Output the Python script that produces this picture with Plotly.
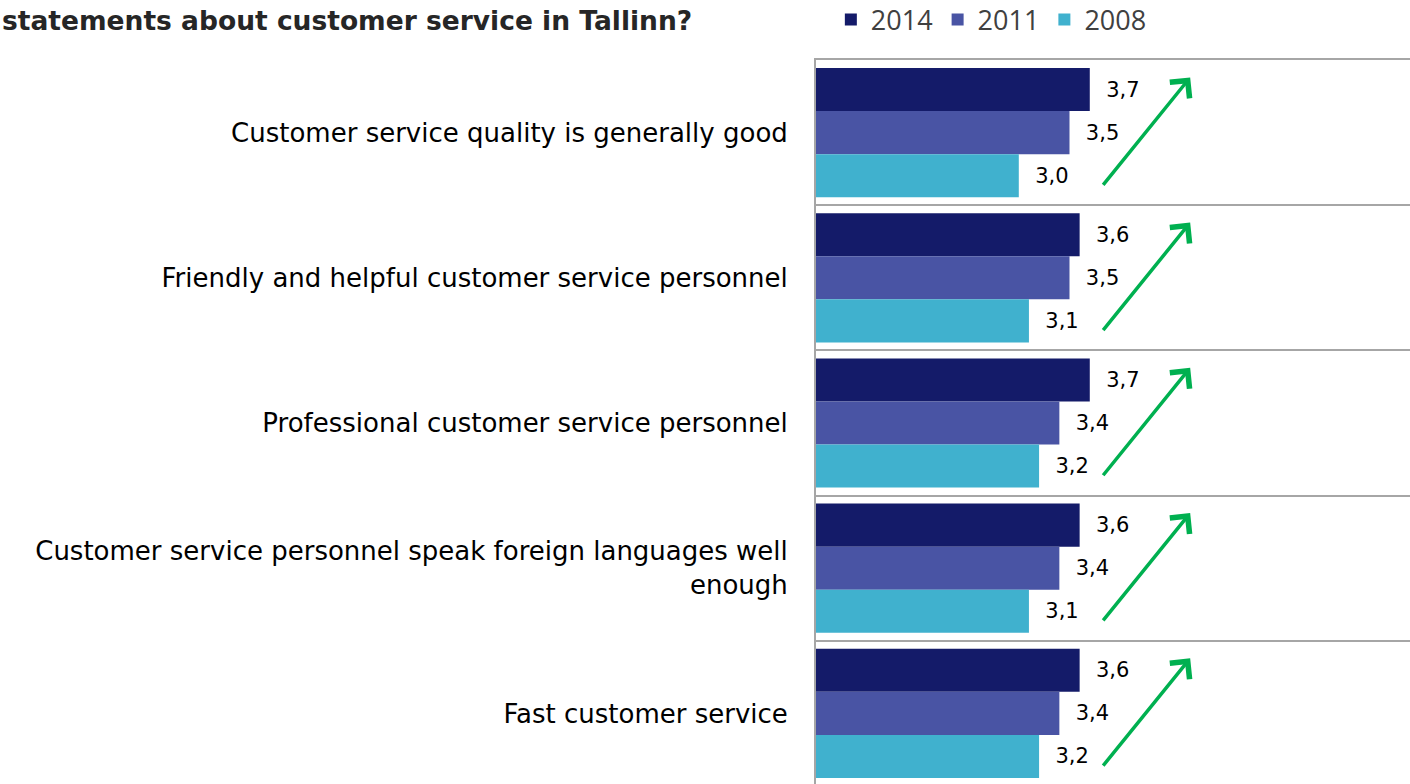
import plotly.graph_objects as go

# Survey statements (top to bottom) and mean agreement scores per survey year
statements = [
    "Customer service quality is generally good",
    "Friendly and helpful customer service personnel",
    "Professional customer service personnel",
    "Customer service personnel speak foreign languages well<br>enough",
    "Fast customer service",
]
years = ["2014", "2011", "2008"]
scores_2014 = [3.7, 3.6, 3.7, 3.6, 3.6]
scores_2011 = [3.5, 3.5, 3.4, 3.4, 3.4]
scores_2008 = [3.0, 3.1, 3.2, 3.1, 3.2]

series = [scores_2014, scores_2011, scores_2008]
colors = ["#141B69", "#4954A4", "#40B1CE"]

fig = go.Figure()
for year, vals, col in zip(years, series, colors):
    fig.add_trace(go.Bar(
        name=year,
        y=statements,
        x=vals,
        orientation="h",
        marker=dict(color=col, line=dict(width=0)),
        texttemplate="\u00a0\u00a0%{x:.1f}",
        textposition="outside",
        textfont=dict(family="DejaVu Sans", size=21, color="#000000"),
        cliponaxis=False,
        hoverinfo="skip",
    ))

# Green upward-trend arrows beside every group of bars
n = len(statements)
for i in range(n):
    fig.add_annotation(
        x=4.69, y=i - 0.38, xref="x", yref="y",
        ax=3.82, ay=i + 0.37, axref="x", ayref="y",
        text="", showarrow=True,
        arrowhead=4, arrowsize=1.4, arrowwidth=3.5, arrowcolor="#00B050",
        standoff=0, startstandoff=0,
    )

fig.add_annotation(
    text="<b>statements about customer service in Tallinn?</b>",
    xref="paper", yref="paper", x=-816 / 594, y=1 + 22 / 724,
    xanchor="left", yanchor="bottom", align="left", showarrow=False,
    font=dict(family="DejaVu Sans", size=26.5, color="#262626"),
)

fig.update_layout(
    width=1410, height=784,
    margin=dict(l=816, r=0, t=60, b=0),
    paper_bgcolor="white", plot_bgcolor="white",
    separators=",.",
    barmode="group", bargap=0.11, bargroupgap=0,
    showlegend=True,
    legend=dict(
        orientation="h", x=0.025, xanchor="left",
        yref="container", y=1 - 20 / 784, yanchor="middle",
        font=dict(family="Open Sans", size=27, color="#404040"),
        itemwidth=30, tracegroupgap=0, traceorder="normal",
        bgcolor="rgba(0,0,0,0)",
    ),
    xaxis=dict(
        range=[1, 1 + 594 / 101.4], side="top",
        showgrid=False, zeroline=False, showticklabels=False, ticks="",
        showline=True, linecolor="#A6A6A6", linewidth=2,
    ),
    yaxis=dict(
        type="category", range=[n - 0.5 - 2 / 145, -0.5],
        tickson="boundaries", showgrid=True, gridcolor="#A6A6A6", gridwidth=2,
        showline=True, linecolor="#A6A6A6", linewidth=2,
        ticks="", ticklabelstandoff=21,
        tickfont=dict(family="DejaVu Sans", size=26, color="#000000"),
    ),
)

fig.write_html("out.html")
